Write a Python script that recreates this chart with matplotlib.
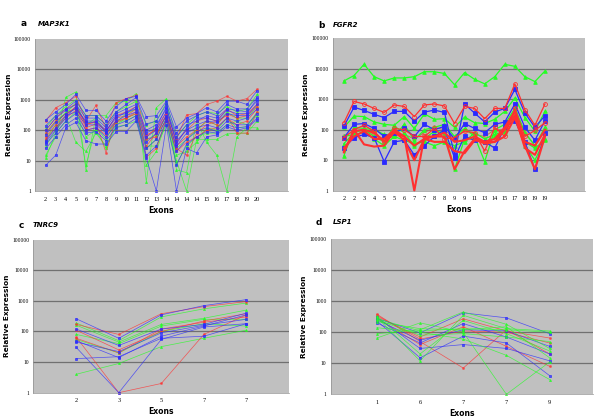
import numpy as np
import matplotlib.pyplot as plt

# Panel a - MAP3K1
a_exons = ['2', '3', '4', '5', '6', '7', '8', '9', '10', '11', '12', '13', '14', '14',
           '14', '14', '15', '16', '17', '18', '19', '20']
a_blue = [
    [220, 400, 700, 1500, 450, 450, 200, 600, 1100, 1300, 280, 300, 900, 130, 250, 350, 550, 400, 900, 900, 700, 2000],
    [140, 300, 500, 900, 300, 300, 150, 400, 700, 1200, 160, 200, 700, 80, 200, 300, 400, 300, 700, 500, 500, 1200],
    [100, 250, 450, 700, 250, 250, 120, 350, 500, 700, 100, 150, 500, 60, 150, 200, 300, 250, 500, 450, 400, 900],
    [70, 180, 350, 500, 200, 200, 100, 250, 400, 500, 60, 100, 400, 45, 100, 150, 200, 180, 350, 300, 300, 700],
    [45, 120, 300, 400, 150, 150, 80, 200, 300, 400, 40, 80, 300, 30, 80, 120, 150, 120, 250, 200, 250, 500],
    [35, 80, 200, 350, 100, 120, 60, 150, 200, 300, 25, 50, 250, 20, 50, 90, 120, 90, 200, 150, 150, 350],
    [25, 60, 150, 250, 80, 90, 45, 120, 150, 250, 15, 30, 200, 7, 35, 60, 90, 80, 150, 120, 130, 250],
    [7, 15, 120, 180, 45, 35, 35, 90, 90, 200, 12, 1, 150, 1, 25, 18, 60, 70, 130, 100, 120, 220],
    [40, 100, 250, 600, 180, 180, 90, 300, 350, 600, 80, 120, 600, 35, 120, 250, 250, 200, 450, 350, 350, 1100],
]
a_red = [
    [200, 550, 800, 1300, 200, 650, 110, 800, 1100, 1400, 60, 120, 400, 50, 320, 350, 700, 900, 1300, 900, 1100, 2200],
    [100, 250, 500, 700, 150, 200, 90, 300, 400, 600, 70, 100, 300, 40, 100, 200, 250, 200, 500, 300, 350, 700],
    [80, 200, 350, 550, 160, 180, 18, 250, 300, 500, 13, 25, 250, 30, 60, 100, 200, 150, 350, 250, 300, 600],
    [60, 150, 300, 600, 120, 160, 100, 200, 250, 400, 50, 60, 350, 25, 15, 80, 150, 200, 300, 80, 80, 400],
    [50, 120, 250, 450, 100, 120, 70, 180, 250, 350, 30, 80, 200, 20, 40, 60, 100, 120, 250, 150, 200, 500],
]
a_green = [
    [15, 60, 1200, 1800, 5, 300, 300, 800, 900, 1600, 2, 550, 1100, 5, 4, 200, 40, 15, 1, 60, 120, 120],
    [30, 100, 300, 40, 20, 80, 30, 150, 250, 350, 7, 20, 200, 10, 1, 50, 50, 50, 75, 80, 80, 200],
    [50, 150, 400, 500, 7, 120, 50, 200, 200, 300, 30, 30, 150, 8, 30, 60, 80, 80, 150, 200, 150, 300],
    [80, 200, 350, 800, 150, 250, 80, 180, 350, 500, 50, 70, 300, 25, 50, 100, 200, 150, 400, 250, 250, 600],
    [12, 80, 200, 400, 60, 100, 25, 130, 150, 200, 25, 50, 250, 15, 20, 40, 120, 100, 250, 120, 130, 400],
    [120, 300, 600, 1000, 300, 300, 150, 400, 600, 900, 150, 200, 800, 60, 150, 300, 400, 350, 600, 400, 500, 1500],
]

# Panel b - FGFR2
b_exons = ['2', '2', '3', '4', '5', '5', '6', '7', '7', '8', '8', '9', '9', '11', '13',
           '14', '15', '17', '18', '19', '19']
b_blue = [
    [130, 550, 430, 320, 250, 400, 400, 190, 380, 440, 370, 15, 700, 350, 180, 380, 500, 2100, 350, 120, 290],
    [55, 150, 160, 110, 60, 80, 110, 60, 150, 100, 130, 50, 160, 110, 80, 150, 180, 700, 120, 45, 200],
    [25, 55, 70, 55, 9, 40, 45, 15, 30, 60, 100, 12, 60, 45, 40, 25, 120, 200, 40, 5, 80],
]
b_green = [
    [4000, 6000, 14000, 5500, 4000, 5000, 5000, 5500, 8000, 8000, 7000, 3000, 7500, 4500, 3200, 5500, 14000, 12000, 5500, 3800, 8500],
    [120, 280, 270, 180, 150, 140, 270, 110, 330, 220, 230, 120, 260, 170, 160, 220, 400, 1100, 250, 90, 400],
    [14, 120, 110, 100, 70, 60, 150, 45, 100, 120, 150, 60, 110, 60, 9, 100, 150, 500, 80, 30, 120],
    [35, 80, 100, 60, 40, 130, 80, 30, 50, 90, 80, 5, 50, 50, 40, 60, 80, 400, 40, 25, 45],
    [60, 70, 80, 50, 30, 60, 45, 35, 40, 30, 40, 30, 40, 80, 50, 70, 90, 300, 30, 10, 50],
]
b_red_open = [
    [170, 850, 700, 500, 370, 650, 580, 270, 650, 700, 600, 160, 580, 500, 230, 500, 500, 3200, 450, 140, 700],
    [55, 100, 140, 90, 40, 110, 100, 60, 60, 110, 50, 55, 90, 80, 20, 120, 60, 500, 60, 95, 170],
]
b_red_thick = [
    [20, 90, 100, 80, 40, 80, 60, 1, 60, 60, 60, 5, 20, 50, 35, 40, 60, 250, 30, 5, 60],
    [18, 100, 33, 28, 30, 90, 45, 10, 50, 40, 40, 20, 17, 45, 40, 40, 100, 300, 25, 15, 70],
    [25, 60, 90, 50, 50, 100, 60, 30, 50, 60, 80, 40, 45, 60, 40, 50, 120, 400, 40, 30, 100],
]
b_olive = [
    [60, 90, 100, 70, 50, 60, 70, 50, 80, 120, 100, 50, 100, 70, 60, 100, 100, 500, 80, 30, 90],
]

# Panel c - TNRC9
c_exons = ['2', '3', '5', '7', '7']
c_blue = [
    [260, 60, 350, 700, 1100],
    [120, 35, 120, 170, 400],
    [45, 22, 90, 160, 250],
    [30, 1, 55, 140, 180],
    [13, 15, 60, 70, 180],
    [50, 14, 70, 150, 350],
]
c_red = [
    [170, 80, 380, 650, 950],
    [65, 1, 2, 80, 350],
    [110, 25, 100, 220, 380],
    [60, 20, 120, 200, 300],
]
c_green = [
    [190, 50, 300, 550, 850],
    [160, 45, 170, 270, 500],
    [4, 9, 32, 60, 110],
    [80, 40, 150, 250, 250],
    [55, 20, 100, 180, 150],
]

# Panel d - LSP1
d_exons = ['1', '6', '7', '7', '9']
d_blue = [
    [280, 95, 420, 290, 90],
    [230, 15, 75, 45, 4],
    [200, 45, 190, 70, 20],
    [300, 30, 40, 30, 12],
    [250, 55, 120, 110, 35],
]
d_red = [
    [380, 50, 7, 120, 20],
    [320, 70, 270, 110, 65],
    [280, 40, 150, 35, 8],
    [350, 60, 110, 100, 45],
]
d_green = [
    [65, 200, 100, 1, 11],
    [90, 120, 450, 180, 30],
    [140, 100, 60, 18, 3],
    [300, 12, 350, 130, 110],
    [220, 130, 120, 150, 15],
    [250, 80, 90, 70, 50],
    [330, 20, 240, 90, 25],
    [270, 110, 130, 120, 100],
]

BLUE = '#2a2aff'
RED = '#ff3030'
GREEN = '#22ff22'

fig = plt.figure(figsize=(6, 4.19), dpi=100)
fig.patch.set_facecolor('white')


def style_axes(ax, exons, xlim, letter, gene, lx, ly, gx):
    ax.set_facecolor('#c0c0c0')
    ax.set_yscale('log')
    ax.set_ylim(1, 100000)
    ax.set_xlim(*xlim)
    ax.set_yticks([1, 10, 100, 1000, 10000, 100000])
    ax.set_yticklabels(['1', '10', '100', '1000', '10000', '100000'],
                       family='Liberation Serif', fontsize=4)
    ax.minorticks_off()
    ax.set_xticks(range(len(exons)))
    ax.set_xticklabels(exons, family='Liberation Serif', fontsize=4.5)
    ax.tick_params(axis='x', length=0, pad=4)
    ax.tick_params(axis='y', length=0, pad=3)
    for y in [10, 100, 1000, 10000]:
        ax.axhline(y, color='#707070', lw=0.9, zorder=0.5)
    for s in ['top', 'right']:
        ax.spines[s].set_visible(False)
    ax.spines['left'].set_color('#909090')
    ax.spines['bottom'].set_color('#909090')
    ax.spines['left'].set_linewidth(0.5)
    ax.spines['bottom'].set_linewidth(0.5)
    ax.set_ylabel('Relative Expression', fontsize=5.3, fontweight='bold', labelpad=1.5)
    ax.set_xlabel('Exons', fontsize=5.5, fontweight='bold', labelpad=3)
    fig.text(lx / 600, 1 - ly / 419, letter, fontsize=6.5, fontweight='bold',
             va='center', ha='left')
    fig.text(gx / 600, 1 - ly / 419, gene, fontsize=5, fontweight='bold',
             fontstyle='italic', va='center', ha='left')


def draw(ax, series, color, marker, lw=0.5, ms=1.5, mfc=None, alpha=0.75):
    for vals in series:
        x = np.arange(len(vals))
        ax.plot(x, vals, color=color, lw=lw, marker=marker, ms=ms,
                mfc=mfc if mfc else color, mec=color, mew=0.6, alpha=alpha,
                clip_on=False, zorder=2)


# a
ax_a = fig.add_axes([0.0583, 0.5442, 0.4217, 0.3628])
style_axes(ax_a, a_exons, (-1.06, 24.08), 'a', 'MAP3K1', 21, 24, 38)
draw(ax_a, a_green, GREEN, '^')
draw(ax_a, a_red, RED, 's', ms=1.1)
draw(ax_a, a_blue, BLUE, 's')

# b
ax_b = fig.add_axes([0.5545, 0.5449, 0.4205, 0.3637])
style_axes(ax_b, b_exons, (-1.12, 23.98), 'b', 'FGFR2', 318, 25, 333)
draw(ax_b, b_olive, '#c06030', 'o', lw=0.8, ms=2.5, mfc='none')
draw(ax_b, b_green, GREEN, '^', lw=0.9, ms=2.6, alpha=1)
draw(ax_b, b_blue, BLUE, 's', lw=0.9, ms=3, alpha=1)
draw(ax_b, b_red_open, RED, 'o', lw=0.9, ms=2.8, mfc='none', alpha=1)
draw(ax_b, b_red_thick, RED, 'None', lw=1.5, alpha=1)

# c
ax_c = fig.add_axes([0.0555, 0.0628, 0.4267, 0.3652])
style_axes(ax_c, c_exons, (-1.01, 5.01), 'c', 'TNRC9', 19, 225, 33)
draw(ax_c, c_green, GREEN, '^')
draw(ax_c, c_red, RED, 's', ms=1.1)
draw(ax_c, c_blue, BLUE, 's', ms=1.8)

# d
ax_d = fig.add_axes([0.5512, 0.0589, 0.4367, 0.3706])
style_axes(ax_d, d_exons, (-1.07, 5.0), 'd', 'LSP1', 316, 222, 333)
draw(ax_d, d_red, RED, 's', ms=1.1)
draw(ax_d, d_blue, BLUE, 's', ms=1.8)
draw(ax_d, d_green, GREEN, '^')

fig.savefig('out.png', dpi=100, facecolor='white')
